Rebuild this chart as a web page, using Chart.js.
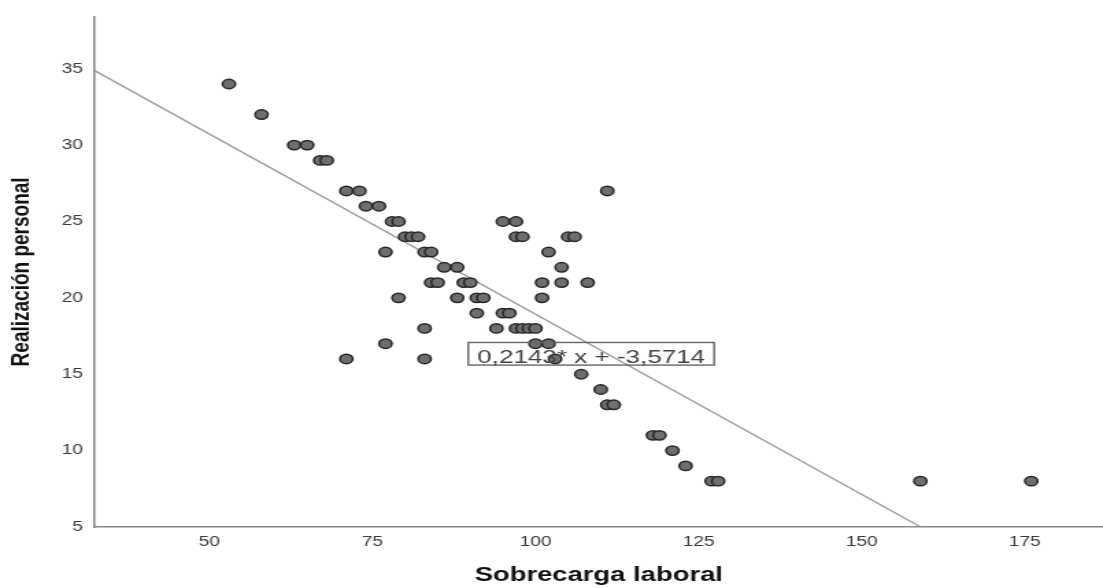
<!DOCTYPE html>
<html lang="es">
<head>
<meta charset="utf-8">
<title>Sobrecarga laboral y realización personal</title>
<script src="https://cdn.jsdelivr.net/npm/chart.js@4/dist/chart.umd.min.js"></script>
<style>
  html, body { margin: 0; padding: 0; background: #fff; overflow: hidden; }
  /* the chart is laid out at 805px and widened to 1103px, giving the wide, stretched look */
  #wrap { width: 805px; height: 588px; transform: scaleX(1.3702); transform-origin: 0 0; }
</style>
</head>
<body>
<div id="wrap"><canvas id="chart"></canvas></div>
<script>
// Sobrecarga laboral (x) and Realización personal (y), one entry per respondent
const sobrecarga = [53, 58, 63, 65, 67, 68, 71, 73, 111, 74, 76, 78, 79, 95, 97,
  80, 81, 82, 97, 98, 105, 106, 77, 83, 84, 102, 86, 88, 104,
  84, 85, 89, 90, 101, 104, 108, 79, 88, 91, 92, 101, 91, 95, 96,
  83, 94, 97, 98, 99, 100, 77, 100, 102, 71, 83, 103, 107, 110, 111, 112,
  118, 119, 121, 123, 127, 128, 159, 176];
const realizacion = [34, 32, 30, 30, 29, 29, 27, 27, 27, 26, 26, 25, 25, 25, 25,
  24, 24, 24, 24, 24, 24, 24, 23, 23, 23, 23, 22, 22, 22,
  21, 21, 21, 21, 21, 21, 21, 20, 20, 20, 20, 20, 19, 19, 19,
  18, 18, 18, 18, 18, 18, 17, 17, 17, 16, 16, 16, 15, 14, 13, 13,
  11, 11, 10, 9, 8, 8, 8, 8];

// fitted reference line
const lineSlope = -0.2359;
const lineIntercept = 42.52;
const fitLabelText = '0,2143* x + -3,5714';

// axis ranges and tick labels
const xRange = [32.4, 187];
const yRange = [5, 38.4];
const xTickValues = [50, 75, 100, 125, 150, 175];
const yTickValues = [5, 10, 15, 20, 25, 30, 35];

const FONT = '"Liberation Sans", Arial, Helvetica, sans-serif';

const points = sobrecarga.map((v, i) => ({ x: v, y: realizacion[i] }));

// line runs from the left edge of the plot down to the bottom of the y range
const lineAt = x => lineIntercept + lineSlope * x;
const lineEndX = (yRange[0] - lineIntercept) / lineSlope;
const fitLine = [
  { x: xRange[0], y: lineAt(xRange[0]) },
  { x: lineEndX, y: yRange[0] }
];

// boxed equation label placed inside the plot
const fitLabel = {
  id: 'fitLabel',
  afterDatasetsDraw(chart) {
    const { ctx, scales: { x, y } } = chart;
    const left = x.getPixelForValue(89.7);
    const bottom = y.getPixelForValue(15.6);
    ctx.save();
    ctx.font = '19px ' + FONT;
    const w = ctx.measureText(fitLabelText).width;
    const padX = 6.5, h = 22.6;
    ctx.strokeStyle = '#666';
    ctx.lineWidth = 1.4;
    ctx.strokeRect(left, bottom - h, w + padX * 2, h);
    ctx.fillStyle = '#444';
    ctx.textBaseline = 'alphabetic';
    ctx.fillText(fitLabelText, left + padX, bottom - 1.7);
    ctx.restore();
  }
};

new Chart(document.getElementById('chart'), {
  type: 'scatter',
  data: {
    datasets: [
      {
        label: 'Realización personal',
        data: points,
        order: 0,
        pointRadius: 4.7,
        pointHoverRadius: 4.7,
        pointBackgroundColor: '#6e6e6e',
        pointBorderColor: '#262626',
        pointBorderWidth: 1.5
      },
      {
        type: 'line',
        label: 'Ajuste',
        data: fitLine,
        order: 1,
        borderColor: '#999',
        borderWidth: 1.3,
        pointRadius: 0,
        fill: false,
        tension: 0
      }
    ]
  },
  options: {
    responsive: true,
    maintainAspectRatio: false,
    animation: false,
    devicePixelRatio: 1,
    layout: { autoPadding: false, padding: { top: 10, left: 0, right: 0, bottom: 0 } },
    plugins: { legend: { display: false }, tooltip: { enabled: false } },
    events: [],
    scales: {
      x: {
        type: 'linear',
        min: xRange[0],
        max: xRange[1],
        afterBuildTicks: s => { s.ticks = xTickValues.map(v => ({ value: v })); },
        afterFit: s => { s.height = 61; },
        grid: { display: false, drawTicks: false },
        border: { display: true, color: '#888', width: 1.6 },
        ticks: {
          padding: 7,
          maxRotation: 0,
          autoSkip: false,
          color: '#3a3a3a',
          font: { family: FONT, size: 14 }
        },
        title: {
          display: true,
          text: 'Sobrecarga laboral',
          color: '#111',
          padding: { top: 0, bottom: 1 },
          font: { family: FONT, size: 20, weight: 'bold' }
        }
      },
      y: {
        type: 'linear',
        min: yRange[0],
        max: yRange[1],
        afterBuildTicks: s => { s.ticks = yTickValues.map(v => ({ value: v })); },
        afterFit: s => { s.width = 69; },
        grid: { display: false, drawTicks: false },
        border: { display: true, color: '#888', width: 1.6 },
        ticks: {
          padding: 8.4,
          autoSkip: false,
          color: '#3a3a3a',
          font: { family: FONT, size: 14 }
        },
        title: {
          display: true,
          text: 'Realización personal',
          color: '#111',
          padding: { top: 4.5, bottom: 0 },
          font: { family: FONT, size: 19, weight: 'bold' }
        }
      }
    }
  },
  plugins: [fitLabel]
});
</script>
</body>
</html>
